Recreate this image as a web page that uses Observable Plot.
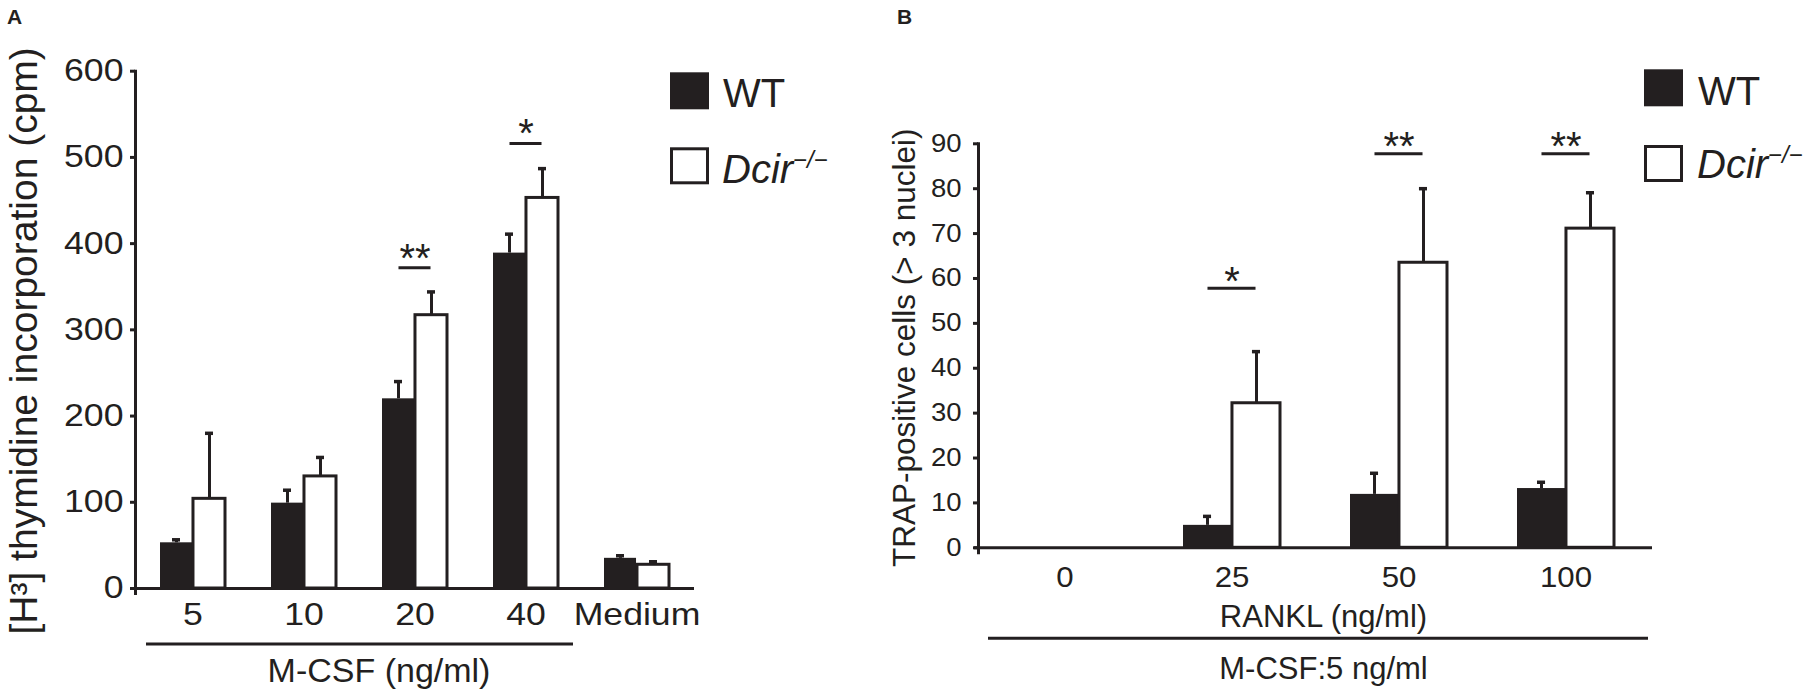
<!DOCTYPE html>
<html><head><meta charset="utf-8">
<script src="https://cdn.jsdelivr.net/npm/d3@7"></script>
<script src="https://cdn.jsdelivr.net/npm/@observablehq/plot@0.6"></script>
<style>
html,body{margin:0;padding:0;background:#fff;}
#wrap{position:relative;width:1808px;height:692px;overflow:hidden;background:#fff;}
#wrap svg{position:absolute;}
</style></head><body><div id="wrap"></div>
<script>
const INK = "#231f20";
const FONT = "'Liberation Sans', Arial, Helvetica, sans-serif";

// ---------- Panel A data ----------
const catsA = ["5", "10", "20", "40", "Medium"];
const wtA = [53, 99, 220, 389, 35];
const wtAErr = [3.5, 15, 20, 22, 3];
const koA = [104, 130, 317, 453, 27.5];
const koAErr = [76, 22, 27, 34, 3.5];
const ticksA = [0, 100, 200, 300, 400, 500, 600];
const sigACats = ["20", "40"];
const sigAY = [372, 516];
const sigAMarks = ["**", "*"];
const yLabelA = "[H³] thymidine incorporation (cpm)";
const groupLabelA = "M-CSF (ng/ml)";

// ---------- Panel B data ----------
const catsB = ["0", "25", "50", "100"];
const wtB = [0, 5.0, 11.9, 13.2];
const wtBErr = [0, 2.0, 4.7, 1.4];
const koB = [0, 32.2, 63.5, 71.1];
const koBErr = [0, 11.5, 16.5, 8.0];
const ticksB = [0, 10, 20, 30, 40, 50, 60, 70, 80, 90];
const sigBCats = ["25", "50", "100"];
const sigBY = [57.8, 87.8, 87.8];
const sigBMarks = ["*", "**", "**"];
const yLabelB = "TRAP-positive cells (> 3 nuclei)";
const xLabelB = "RANKL (ng/ml)";
const groupLabelB = "M-CSF:5 ng/ml";

const seriesNames = ["WT", "Dcir"];

const wrap = d3.select("#wrap");

// widen text horizontally around its anchor point
function stretchText(plot, selector, s) {
  d3.select(plot).selectAll(selector).each(function () {
    const t = this.getAttribute("transform") || "";
    const x = +(this.getAttribute("x") || 0);
    this.setAttribute("transform", `${t} translate(${x},0) scale(${s},1) translate(${-x},0)`);
  });
}

function drawPanel(o) {
  const rows = o.cats.map((c, i) => ({
    cat: c, wt: o.wt[i], wtErr: o.wtErr[i], wtHi: o.wt[i] + o.wtErr[i],
    ko: o.ko[i], koErr: o.koErr[i], koHi: o.ko[i] + o.koErr[i]
  }));
  const sig = o.sigCats.map((c, i) => ({cat: c, y: o.sigY[i], mark: o.sigMarks[i]}));
  const n = o.cats.length;
  const step = (o.width - o.marginLeft - o.marginRight) / (n - o.paddingInner + 2 * o.paddingOuter);
  const bw = step * (1 - o.paddingInner);
  const half = bw / 2, q = bw / 4, cap = 4.5;
  const plot = Plot.plot({
    width: o.width, height: o.height,
    marginLeft: o.marginLeft, marginRight: o.marginRight,
    marginTop: o.marginTop, marginBottom: o.marginBottom,
    style: {fontFamily: FONT, color: INK, background: "transparent", overflow: "visible"},
    x: {type: "band", domain: o.cats, paddingInner: o.paddingInner, paddingOuter: o.paddingOuter, align: 0.5},
    y: {domain: o.yDomain},
    marks: [
      Plot.barY(rows.filter(d => d.wt > 0), {x: "cat", y: "wt", fill: INK, insetRight: half}),
      Plot.barY(rows.filter(d => d.ko > 0), {x: "cat", y: "ko", fill: "white", stroke: INK, strokeWidth: 3, insetLeft: half}),
      Plot.ruleX(rows.filter(d => d.wtErr > 0), {x: "cat", y1: "wt", y2: "wtHi", dx: -q, stroke: INK, strokeWidth: 3}),
      Plot.ruleX(rows.filter(d => d.koErr > 0), {x: "cat", y1: "ko", y2: "koHi", dx: q, stroke: INK, strokeWidth: 3}),
      Plot.tickY(rows.filter(d => d.wtErr > 0), {x: "cat", y: "wtHi", insetLeft: q - cap, insetRight: bw - q - cap, stroke: INK, strokeWidth: 3.5}),
      Plot.tickY(rows.filter(d => d.koErr > 0), {x: "cat", y: "koHi", insetLeft: 3 * q - cap, insetRight: q - cap, stroke: INK, strokeWidth: 3.5}),
      Plot.tickY(sig, {x: "cat", y: "y", insetLeft: q, insetRight: q, stroke: INK, strokeWidth: 3}),
      Plot.text(sig, {x: "cat", y: "y", text: "mark", fontSize: 40, dy: o.starDy, fill: INK}),
      Plot.ruleY([0], {stroke: INK, strokeWidth: 3, insetLeft: -4}),
      Plot.frame({anchor: "left", stroke: INK, strokeWidth: 3, insetBottom: -5}),
      Plot.axisY(o.ticks, {tickSize: 5, tickPadding: o.yTickPadding, fontSize: o.yTickFont, strokeWidth: 3, label: null, stroke: INK, fill: INK}),
      Plot.axisX({tickSize: 0, tickPadding: o.xTickPadding, fontSize: o.xTickFont, label: null, fill: INK}),
      Plot.text([o.yLabel], {frameAnchor: "left", text: d => d, rotate: -90, fontSize: o.yLabelFont, dx: o.yLabelDx, dy: o.yLabelDy, textAnchor: "middle", fill: INK}),
      ...o.bottomTexts.map(t => Plot.text([t.text], {frameAnchor: "bottom", text: d => d, fontSize: t.size, lineAnchor: "top", dx: t.dx, dy: t.dy, fill: INK}))
    ]
  });
  d3.select(plot).style("left", o.left + "px").style("top", "0px");
  wrap.node().appendChild(plot);
  stretchText(plot, 'g[aria-label="y-axis tick label"] text', o.yStretch);
  stretchText(plot, 'g[aria-label="x-axis tick label"] text', o.xStretch);
  // grouping line under categories, placed from the x scale
  const sx = plot.scale("x");
  const a = sx.apply(o.lineFrom) - o.lineExtL;
  const b = sx.apply(o.lineTo) + sx.bandwidth + o.lineExtR;
  d3.select(plot).append("line")
    .attr("x1", a).attr("x2", b)
    .attr("y1", o.height - o.marginBottom + o.lineOffset)
    .attr("y2", o.height - o.marginBottom + o.lineOffset)
    .attr("stroke", INK).attr("stroke-width", 3);
  return plot;
}

drawPanel({
  left: 0, width: 700, height: 692,
  marginLeft: 135, marginRight: 6, marginTop: 70.7, marginBottom: 104,
  cats: catsA, wt: wtA, wtErr: wtAErr, ko: koA, koErr: koAErr,
  sigCats: sigACats, sigY: sigAY, sigMarks: sigAMarks,
  paddingInner: 0.41, paddingOuter: 0.205,
  yDomain: [0, 600], ticks: ticksA,
  yTickFont: 31, yTickPadding: 7, xTickFont: 31, xTickPadding: 14,
  yStretch: 1.15, xStretch: 1.15,
  starDy: -9,
  yLabel: yLabelA, yLabelFont: 39, yLabelDx: -111, yLabelDy: 11,
  bottomTexts: [{text: groupLabelA, size: 34, dx: -36, dy: 69}],
  lineFrom: "5", lineTo: "40", lineExtL: 14, lineExtR: 15, lineOffset: 56
});

drawPanel({
  left: 860, width: 800, height: 692,
  marginLeft: 118, marginRight: 8, marginTop: 143.3, marginBottom: 144.7,
  cats: catsB, wt: wtB, wtErr: wtBErr, ko: koB, koErr: koBErr,
  sigCats: sigBCats, sigY: sigBY, sigMarks: sigBMarks,
  paddingInner: 0.417, paddingOuter: 0.2145,
  yDomain: [0, 90], ticks: ticksB,
  yTickFont: 25, yTickPadding: 12, xTickFont: 30, xTickPadding: 18,
  yStretch: 1.1, xStretch: 1.04,
  starDy: -6,
  yLabel: yLabelB, yLabelFont: 31.5, yLabelDx: -74, yLabelDy: 2,
  bottomTexts: [
    {text: xLabelB, size: 31, dx: 8, dy: 57},
    {text: groupLabelB, size: 31, dx: 8, dy: 109}
  ],
  lineFrom: "0", lineTo: "100", lineExtL: 28, lineExtR: 34, lineOffset: 91
});

// ---------- overlay: panel letters and legends ----------
const ov = wrap.append("svg").attr("width", 1808).attr("height", 692)
  .style("left", "0px").style("top", "0px")
  .style("font-family", FONT);
ov.append("text").text("A").attr("x", 7).attr("y", 24).attr("font-weight", "bold").attr("font-size", 21).attr("fill", INK);
ov.append("text").text("B").attr("x", 897).attr("y", 24).attr("font-weight", "bold").attr("font-size", 21).attr("fill", INK);

function legend(x, tops, textX, baselines) {
  const g = ov.append("g");
  g.append("rect").attr("x", x).attr("y", tops[0]).attr("width", 39).attr("height", 37).attr("fill", INK);
  g.append("rect").attr("x", x + 1.5).attr("y", tops[1] + 1.5).attr("width", 36).attr("height", 34)
    .attr("fill", "white").attr("stroke", INK).attr("stroke-width", 3);
  g.append("text").text(seriesNames[0]).attr("x", textX).attr("y", baselines[0]).attr("font-size", 40).attr("fill", INK);
  const t = g.append("text").attr("x", textX - 1).attr("y", baselines[1]).attr("font-size", 40).attr("fill", INK);
  t.append("tspan").attr("font-style", "italic").text(seriesNames[1]);
  t.append("tspan").attr("font-size", 24).attr("dy", -15).attr("font-style", "italic").text("\u2212/\u2212");
}
legend(670, [72.3, 147.3], 723, [106.7, 182.7]);
legend(1644, [69.3, 145], 1698, [105, 178.3]);
</script>
</body></html>
